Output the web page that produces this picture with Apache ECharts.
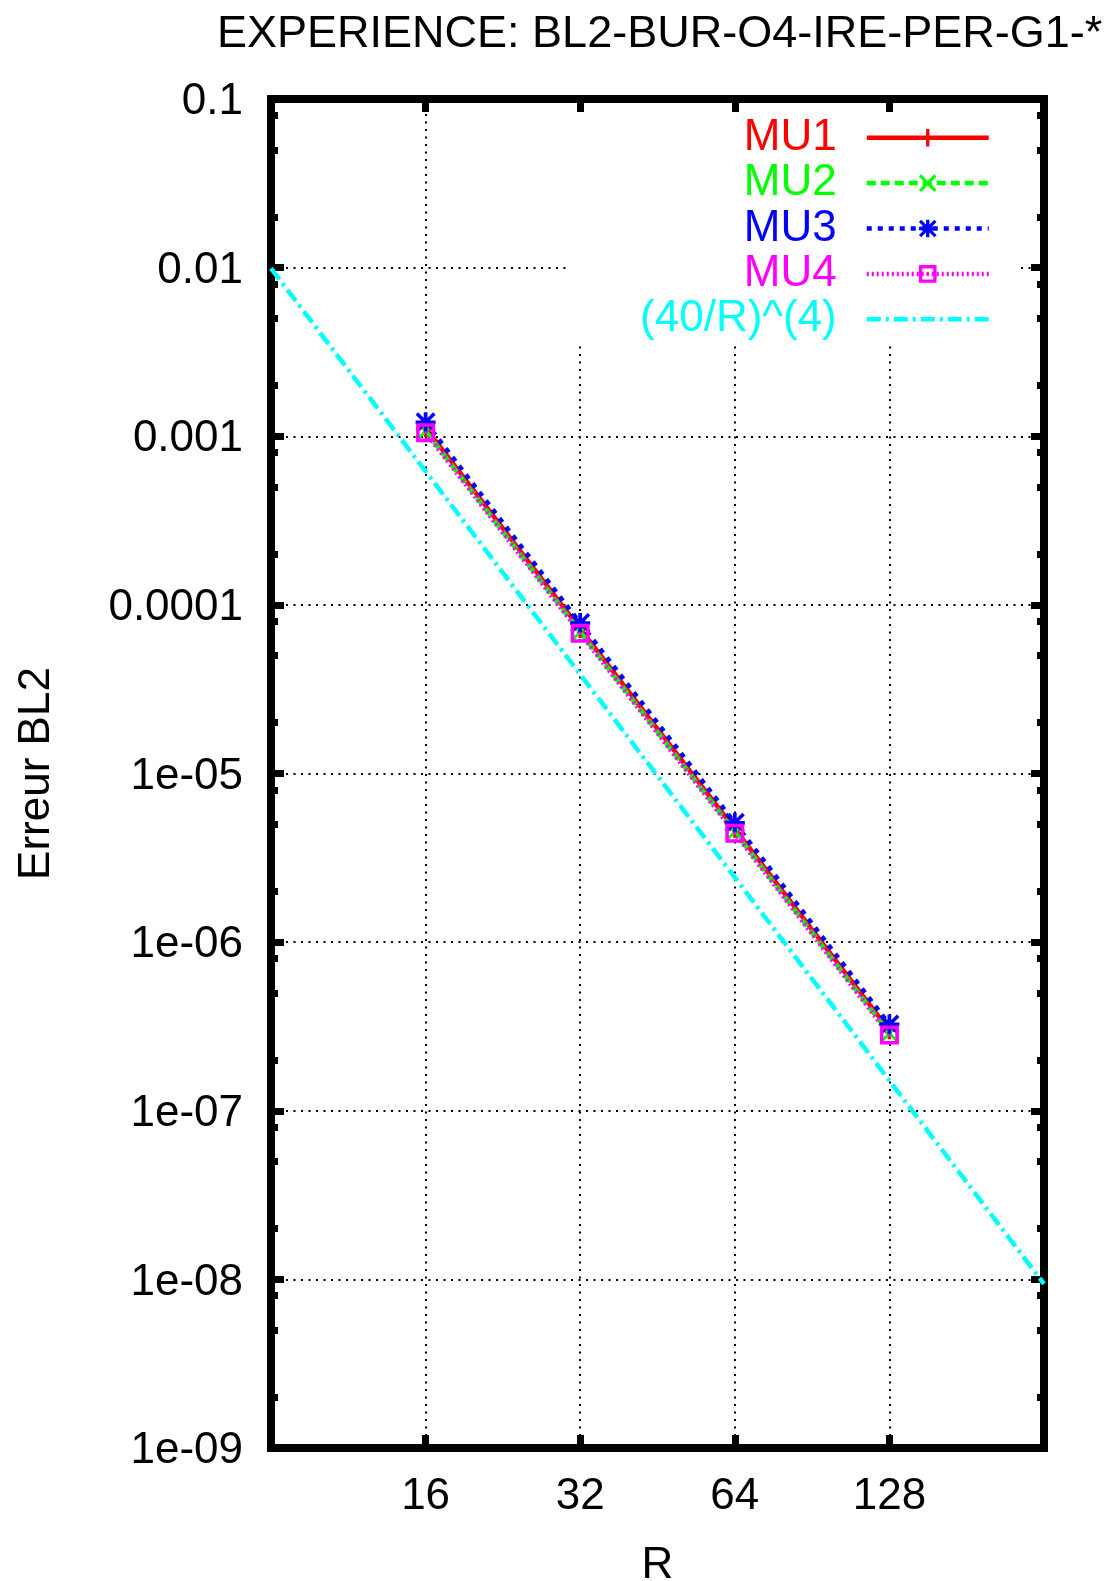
<!DOCTYPE html>
<html>
<head>
<meta charset="utf-8">
<script src="https://cdn.jsdelivr.net/npm/echarts@6/dist/echarts.min.js"></script>
<style>
  html, body { margin: 0; padding: 0; background: #fff; }
  #chart { width: 1107px; height: 1581px; }
</style>
</head>
<body>
<div id="chart"></div>
<script>
// ---- data ----
const rValues = [16, 32, 64, 128];
const mu1Values = [1.12e-3, 7.2e-5, 4.7e-6, 3.0e-7];
const mu2Values = [1.07e-3, 6.9e-5, 4.5e-6, 2.87e-7];
const mu3Values = [1.21e-3, 7.8e-5, 5.1e-6, 3.25e-7];
const mu4Values = [1.05e-3, 6.78e-5, 4.42e-6, 2.81e-7];
const refR = [8, 16, 32, 64, 128, 256];
const refValues = [0.0099, 6.2e-4, 3.87e-5, 2.42e-6, 1.51e-7, 9.4e-9];

const seriesNames = ['MU1', 'MU2', 'MU3', 'MU4', '(40/R)^(4)'];
const xTickLabels = ['16', '32', '64', '128'];
const yTickValues = [1e-9, 1e-8, 1e-7, 1e-6, 1e-5, 1e-4, 1e-3, 1e-2, 1e-1];
const yTickLabels = ['1e-09', '1e-08', '1e-07', '1e-06', '1e-05', '0.0001', '0.001', '0.01', '0.1'];
const yMinorFactors = [2, 5, 8];

const titleText = 'EXPERIENCE: BL2-BUR-O4-IRE-PER-G1-*';
const xName = 'R';
const yName = 'Erreur BL2';

// ---- build ----
const FONT = "'Liberation Sans', Arial, sans-serif";
const colors = ['#ff0000', '#00ff00', '#0000ff', '#ff00ff', '#00ffff'];
const dashes = ['solid', [9, 5], [5, 6], [2, 3], [14, 5, 3, 5]];
const LW = 4.5;

const pairs = (xs, ys) => xs.map((x, i) => [x, ys[i]]);

const yMinorValues = [];
yTickValues.slice(0, -1).forEach(d => yMinorFactors.forEach(f => yMinorValues.push(d * f)));

const SYM_PLUS = 'path://M6.5,0H9.5V16H6.5Z M0,6.5H16V9.5H0Z';
const SYM_CROSS = 'path://M0,2L2,0L16,14L14,16Z M14,0L16,2L2,16L0,14Z';
const SYM_STAR = 'path://M6.5,0H9.5V16H6.5Z M0,6.5H16V9.5H0Z M0,2L2,0L16,14L14,16Z M14,0L16,2L2,16L0,14Z';
const SYM_SQUARE = 'path://M0,0H16V16H0Z M3,3V13H13V3Z M6.8,6.8H9.2V9.2H6.8Z';

function yLabel(v) {
  const e = Math.round(Math.log10(v));
  const idx = yTickValues.findIndex(t => Math.round(Math.log10(t)) === e);
  return idx >= 0 ? '{a|' + yTickLabels[idx] + '}' : '';
}
function xLabel(v) {
  const s = String(Math.round(v));
  return xTickLabels.includes(s) ? s : '';
}

const common = { fontFamily: FONT, color: '#000' };

function lineSeries(i, data, symbol, size, show) {
  return {
    name: seriesNames[i], type: 'line', data,
    xAxisIndex: 0, yAxisIndex: 0,
    symbol, symbolSize: size, symbolKeepAspect: true,
    showSymbol: show,
    lineStyle: { color: colors[i], width: LW, type: dashes[i] },
    itemStyle: { color: colors[i] },
    animation: false,
    z: 3
  };
}

const chart = echarts.init(document.getElementById('chart'), null, { renderer: 'canvas' });
chart.setOption({
  backgroundColor: '#fff',
  animation: false,
  title: {
    text: titleText,
    left: 212, top: 7,
    textStyle: { fontFamily: FONT, fontSize: 45, fontWeight: 'normal', color: '#000' }
  },
  grid: {
    left: 271, right: 63, top: 99, bottom: 133,
    outerBoundsMode: 'none', containLabel: false,
    show: true, borderColor: '#000', borderWidth: 8, backgroundColor: 'transparent'
  },
  legend: {
    orient: 'vertical', align: 'right',
    right: 89, top: 112,
    itemWidth: 122, itemHeight: 22, itemGap: 0,
    padding: [3, 27, 3, 72],
    backgroundColor: '#fff',
    selectedMode: false,
    textStyle: { fontFamily: FONT, fontSize: 44, lineHeight: 45.4, padding: [0, 25, 0, 0] },
    data: seriesNames.map((n, i) => {
      const item = {
        name: n,
        textStyle: { color: colors[i] },
        lineStyle: { color: colors[i], width: LW, type: dashes[i] }
      };
      if (i === 4) item.itemStyle = { opacity: 0 };
      return item;
    })
  },
  xAxis: [
    {
      type: 'log', logBase: 2, min: 8, max: 256, splitNumber: 5, position: 'bottom',
      name: xName, nameLocation: 'middle', nameGap: 96,
      nameTextStyle: { ...common, fontSize: 44 },
      axisLine: { show: false },
      axisTick: { inside: true, length: 13, lineStyle: { color: '#000', width: 7 } },
      axisLabel: { ...common, fontSize: 44, margin: 27, formatter: xLabel },
      splitLine: { show: true, lineStyle: { color: '#000', width: 2, type: [2, 5.5] } }
    },
    {
      type: 'log', logBase: 2, min: 8, max: 256, splitNumber: 5, position: 'top',
      axisLine: { show: false },
      axisTick: { inside: true, length: 13, lineStyle: { color: '#000', width: 7 } },
      axisLabel: { show: false },
      splitLine: { show: false }
    }
  ],
  yAxis: [
    {
      type: 'log', logBase: 10, min: 1e-9, max: 0.1, splitNumber: 8, position: 'left',
      name: yName, nameLocation: 'middle', nameGap: 212, nameRotate: 90,
      nameTextStyle: { ...common, fontSize: 44 },
      axisLine: { show: false },
      axisTick: { inside: true, length: 13, lineStyle: { color: '#000', width: 7 } },
      axisLabel: {
        ...common, fontSize: 44, margin: 28, formatter: yLabel,
        rich: { a: { fontFamily: FONT, fontSize: 44, color: '#000', padding: [6, 0, 0, 0] } }
      },
      splitLine: { show: true, lineStyle: { color: '#000', width: 2, type: [2, 5.5] } }
    },
    {
      type: 'log', logBase: 10, min: 1e-9, max: 0.1, splitNumber: 8, position: 'right',
      axisLine: { show: false },
      axisTick: { inside: true, length: 13, lineStyle: { color: '#000', width: 7 } },
      axisLabel: { show: false },
      splitLine: { show: false }
    },
    {
      type: 'log', logBase: 10, min: 1e-9, max: 0.1, position: 'left',
      axisLine: { show: false },
      axisTick: { inside: true, length: 7, customValues: yMinorValues, lineStyle: { color: '#000', width: 7 } },
      axisLabel: { show: false },
      splitLine: { show: false }
    },
    {
      type: 'log', logBase: 10, min: 1e-9, max: 0.1, position: 'right',
      axisLine: { show: false },
      axisTick: { inside: true, length: 7, customValues: yMinorValues, lineStyle: { color: '#000', width: 7 } },
      axisLabel: { show: false },
      splitLine: { show: false }
    }
  ],
  series: [
    lineSeries(0, pairs(rValues, mu1Values), SYM_PLUS, 18, true),
    lineSeries(1, pairs(rValues, mu2Values), SYM_CROSS, 16, true),
    lineSeries(2, pairs(rValues, mu3Values), SYM_STAR, 20, true),
    lineSeries(3, pairs(rValues, mu4Values), SYM_SQUARE, 19, true),
    lineSeries(4, pairs(refR, refValues), 'none', 0, false)
  ]
});
</script>
</body>
</html>
